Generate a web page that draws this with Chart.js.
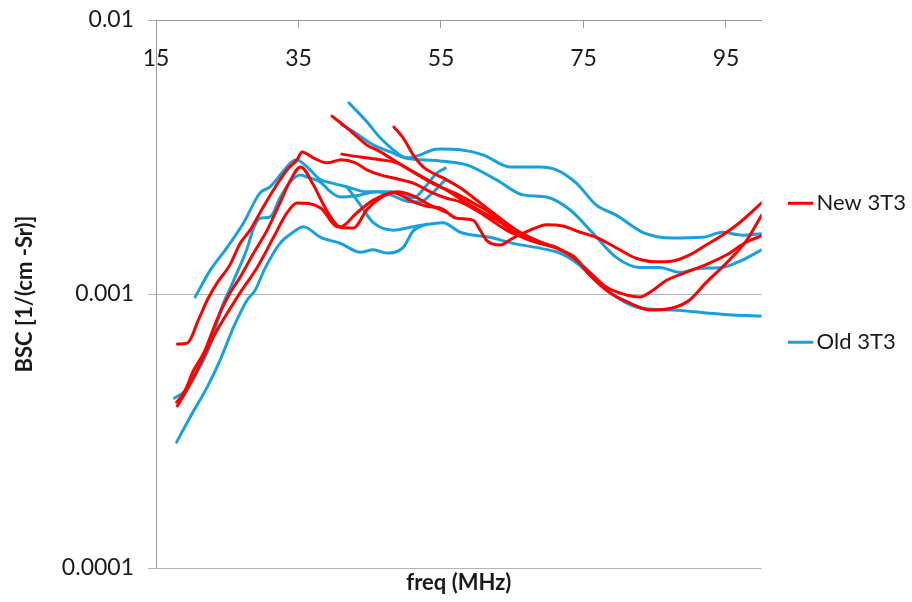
<!DOCTYPE html>
<html>
<head>
<meta charset="utf-8">
<script src="https://cdn.jsdelivr.net/npm/chart.js@4.4.0/dist/chart.umd.min.js"></script>
<style>
  html, body { margin: 0; padding: 0; background: #ffffff; }
  #c { display: block; }
</style>
</head>
<body>
<canvas id="c" width="912" height="602"></canvas>
<script>
// Backscatter coefficient spectra, BSC [1/(cm-Sr)] against frequency (MHz)

const X_TICKS = [15, 35, 55, 75, 95];
const Y_TICKS = [0.0001, 0.001, 0.01];
const Y_TICK_LABELS = ['0.0001', '0.001', '0.01'];
const SERIES_NAMES = ['New 3T3', 'Old 3T3'];

// New 3T3 runs
const NEW_A_FREQ = [18.0, 19.4, 21.0, 22.2, 23.6, 25.4, 26.8, 28.2, 29.6, 31.5, 33.4, 34.8, 35.5, 37.1, 39.0, 41.0, 43.0, 44.6, 46.5, 48.3, 51.1, 53.5, 55.7, 57.7, 60.5, 64.2, 66.5, 68.9, 71.1];
const NEW_A_BSC = [6.57e-4, 6.62e-4, 8.10e-4, 9.51e-4, 1.10e-3, 1.28e-3, 1.53e-3, 1.71e-3, 1.98e-3, 2.40e-3, 2.84e-3, 3.09e-3, 3.30e-3, 3.14e-3, 3.01e-3, 3.09e-3, 3.01e-3, 2.84e-3, 2.72e-3, 2.65e-3, 2.54e-3, 2.36e-3, 2.24e-3, 2.17e-3, 1.98e-3, 1.71e-3, 1.61e-3, 1.53e-3, 1.48e-3];

const NEW_B_FREQ = [17.9, 18.9, 20.3, 21.7, 23.6, 25.4, 26.8, 28.7, 30.6, 32.4, 33.9, 35.3, 37.1, 38.9, 40.9, 43.2, 45.5, 48.3, 51.1, 53.5, 54.9, 57.2, 59.5, 60.5, 61.4, 63.3, 65.1, 67.5, 69.8, 72.1, 74.5, 76.8, 80.1, 82.4, 85.2, 87.5, 89.9, 92.2, 94.5, 96.9, 100];
const NEW_B_BSC = [4.03e-4, 4.35e-4, 5.28e-4, 6.09e-4, 8.10e-4, 1.01e-3, 1.15e-3, 1.41e-3, 1.71e-3, 2.15e-3, 2.61e-3, 2.91e-3, 2.50e-3, 2.03e-3, 1.76e-3, 1.98e-3, 2.20e-3, 2.34e-3, 2.17e-3, 2.08e-3, 2.06e-3, 1.89e-3, 1.86e-3, 1.71e-3, 1.57e-3, 1.51e-3, 1.60e-3, 1.71e-3, 1.79e-3, 1.77e-3, 1.68e-3, 1.61e-3, 1.45e-3, 1.35e-3, 1.31e-3, 1.32e-3, 1.39e-3, 1.51e-3, 1.64e-3, 1.82e-3, 2.15e-3];

const NEW_C_FREQ = [18.0, 19.8, 21.2, 22.6, 24.5, 26.8, 29.2, 31.5, 33.4, 34.8, 38.1, 40.4, 42.7, 44.6, 46.5, 48.8, 51.1, 53.5, 55.7];
const NEW_C_BSC = [3.90e-4, 4.69e-4, 5.55e-4, 6.62e-4, 8.10e-4, 1.01e-3, 1.25e-3, 1.61e-3, 1.98e-3, 2.15e-3, 2.06e-3, 1.76e-3, 1.74e-3, 2.03e-3, 2.24e-3, 2.36e-3, 2.28e-3, 2.11e-3, 1.99e-3];

const NEW_D_FREQ = [39.7, 41.8, 44.6, 46.5, 48.8, 51.1, 53.5, 54.9, 57.2, 59.5, 61.9, 64.2, 66.5, 68.9, 71.2, 73.5, 75.9, 78.2, 81.0, 82.9, 84.7, 86.6, 89.4, 92.2, 95.1, 97.9, 100];
const NEW_D_BSC = [4.46e-3, 4.04e-3, 3.50e-3, 3.30e-3, 3.03e-3, 2.79e-3, 2.56e-3, 2.46e-3, 2.32e-3, 2.15e-3, 1.98e-3, 1.76e-3, 1.61e-3, 1.53e-3, 1.48e-3, 1.36e-3, 1.20e-3, 1.06e-3, 9.92e-4, 9.75e-4, 1.03e-3, 1.12e-3, 1.20e-3, 1.28e-3, 1.39e-3, 1.55e-3, 1.63e-3];

const NEW_E_FREQ = [48.4, 49.7, 51.1, 52.5, 53.9, 55.8, 57.7, 60.5, 63.3, 66.1, 68.9, 71.7, 73.8, 75.9, 78.7, 81.5, 84.3, 87.5, 89.9, 92.2, 95.1, 97.9, 100];
const NEW_E_BSC = [4.07e-3, 3.71e-3, 3.22e-3, 2.91e-3, 2.76e-3, 2.61e-3, 2.44e-3, 2.15e-3, 1.89e-3, 1.68e-3, 1.55e-3, 1.45e-3, 1.36e-3, 1.17e-3, 1.01e-3, 9.27e-4, 8.74e-4, 8.89e-4, 9.51e-4, 1.10e-3, 1.30e-3, 1.57e-3, 1.94e-3];

const NEW_F_FREQ = [41.1, 43.7, 46.5, 48.8, 51.1, 53.5, 55.7, 59.1, 63.3, 67.5, 71.1];
const NEW_F_BSC = [3.24e-3, 3.16e-3, 3.09e-3, 3.01e-3, 2.79e-3, 2.58e-3, 2.40e-3, 2.11e-3, 1.83e-3, 1.60e-3, 1.48e-3];

// Old 3T3 runs
const OLD_A_FREQ = [20.5, 22.6, 25.0, 27.3, 29.6, 31.0, 33.9, 34.7, 36.2, 38.1, 39.7, 41.8, 44.6, 47.9, 51.1, 53.0, 54.4, 55.6];
const OLD_A_BSC = [9.75e-4, 1.22e-3, 1.48e-3, 1.82e-3, 2.34e-3, 2.46e-3, 3.01e-3, 3.09e-3, 2.91e-3, 2.61e-3, 2.54e-3, 2.46e-3, 2.36e-3, 2.36e-3, 2.24e-3, 2.50e-3, 2.76e-3, 2.88e-3];

const OLD_B_FREQ = [17.6, 18.9, 20.3, 22.2, 23.1, 24.0, 25.9, 27.8, 28.7, 29.6, 31.0, 32.4, 33.9, 35.3, 36.2, 38.1, 39.5, 40.9, 43.0, 46.0, 47.9, 50.7, 52.1, 53.5, 55.6];
const OLD_B_BSC = [4.17e-4, 4.39e-4, 4.94e-4, 6.14e-4, 7.08e-4, 8.60e-4, 1.12e-3, 1.47e-3, 1.74e-3, 1.89e-3, 1.91e-3, 2.24e-3, 2.58e-3, 2.72e-3, 2.67e-3, 2.56e-3, 2.36e-3, 2.26e-3, 2.28e-3, 2.36e-3, 2.30e-3, 2.17e-3, 2.17e-3, 2.30e-3, 2.61e-3];

const OLD_C_FREQ = [17.9, 19.8, 22.2, 24.0, 25.9, 27.8, 28.9, 30.3, 32.4, 34.1, 35.7, 38.1, 40.9, 43.7, 45.5, 47.4, 49.7, 51.1, 53.0];
const OLD_C_BSC = [2.88e-4, 3.56e-4, 4.58e-4, 5.74e-4, 7.58e-4, 9.51e-4, 1.03e-3, 1.24e-3, 1.53e-3, 1.67e-3, 1.76e-3, 1.61e-3, 1.53e-3, 1.42e-3, 1.45e-3, 1.41e-3, 1.48e-3, 1.70e-3, 1.80e-3];

const OLD_D_FREQ = [41.1, 43.0, 45.5, 47.9, 50.2, 52.1, 53.9, 54.9, 57.7, 60.9, 64.7, 68.9, 71.2, 74.0, 76.8, 79.6, 83.3, 87.5, 91.7, 94.5, 97.3, 100];
const OLD_D_BSC = [4.14e-3, 3.87e-3, 3.50e-3, 3.30e-3, 3.14e-3, 3.22e-3, 3.36e-3, 3.38e-3, 3.36e-3, 3.22e-3, 2.91e-3, 2.91e-3, 2.84e-3, 2.54e-3, 2.11e-3, 1.94e-3, 1.68e-3, 1.60e-3, 1.61e-3, 1.68e-3, 1.64e-3, 1.66e-3];

const OLD_E_FREQ = [42.1, 44.6, 46.5, 48.3, 49.7, 52.1, 54.9, 58.6, 62.8, 66.5, 69.8, 73.1, 76.3, 79.6, 82.9, 85.7, 88.5, 91.3, 94.5, 97.3, 100];
const OLD_E_BSC = [4.98e-3, 4.25e-3, 3.71e-3, 3.36e-3, 3.16e-3, 3.09e-3, 3.06e-3, 2.96e-3, 2.61e-3, 2.30e-3, 2.26e-3, 2.03e-3, 1.67e-3, 1.36e-3, 1.25e-3, 1.25e-3, 1.20e-3, 1.24e-3, 1.25e-3, 1.33e-3, 1.45e-3];

const OLD_F_FREQ = [41.8, 43.7, 45.5, 48.3, 51.1, 55.3, 57.7, 61.9, 65.1, 68.9, 71.7, 74.0, 76.8, 79.6, 82.9, 87.5, 92.2, 95.9, 100];
const OLD_F_BSC = [2.46e-3, 2.11e-3, 1.82e-3, 1.71e-3, 1.76e-3, 1.82e-3, 1.68e-3, 1.61e-3, 1.53e-3, 1.47e-3, 1.41e-3, 1.30e-3, 1.12e-3, 9.75e-4, 8.89e-4, 8.74e-4, 8.53e-4, 8.38e-4, 8.31e-4];

const RED = '#ff0000';
const BLUE = '#17a2de';
const TEXT = '#1a1a1a';
const GRID = '#b4b4b4';
const AXIS = '#999999';

Chart.defaults.font.family = 'Lato, "Open Sans", sans-serif';

const groups = [
  { name: SERIES_NAMES[0], color: RED, runs: [
    [NEW_A_FREQ, NEW_A_BSC], [NEW_B_FREQ, NEW_B_BSC], [NEW_C_FREQ, NEW_C_BSC],
    [NEW_D_FREQ, NEW_D_BSC], [NEW_E_FREQ, NEW_E_BSC], [NEW_F_FREQ, NEW_F_BSC]] },
  { name: SERIES_NAMES[1], color: BLUE, runs: [
    [OLD_A_FREQ, OLD_A_BSC], [OLD_B_FREQ, OLD_B_BSC], [OLD_C_FREQ, OLD_C_BSC],
    [OLD_D_FREQ, OLD_D_BSC], [OLD_E_FREQ, OLD_E_BSC], [OLD_F_FREQ, OLD_F_BSC]] }
];

const datasets = [];
groups.forEach(g => {
  g.runs.forEach(([fs, vs]) => {
    datasets.push({
      label: g.name,
      data: fs.map((f, i) => ({ x: f, y: vs[i] })),
      borderColor: g.color,
      backgroundColor: g.color,
      borderWidth: 3,
      pointRadius: 0,
      pointHoverRadius: 0,
      fill: false,
      cubicInterpolationMode: 'monotone',
      borderCapStyle: 'round',
      borderJoinStyle: 'round'
    });
  });
});

new Chart(document.getElementById('c'), {
  type: 'line',
  data: { datasets },
  options: {
    responsive: false,
    animation: false,
    devicePixelRatio: 1,
    layout: { padding: { left: 0, right: -4, top: 0, bottom: 0 } },
    plugins: {
      tooltip: { enabled: false },
      legend: {
        position: 'right',
        align: 'center',
        labels: {
          usePointStyle: true,
          boxWidth: 10,
          boxHeight: 18,
          padding: 34,
          color: TEXT,
          font: { size: 22, lineHeight: '26.25px' },
          generateLabels: () => [
            { text: [SERIES_NAMES[0], '', '', ''], strokeStyle: RED, fillStyle: RED, lineWidth: 3, pointStyle: 'line', hidden: false, datasetIndex: 0, fontColor: TEXT },
            { text: [SERIES_NAMES[1], '', ''], strokeStyle: BLUE, fillStyle: BLUE, lineWidth: 3, pointStyle: 'line', hidden: false, datasetIndex: 6, fontColor: TEXT }
          ]
        }
      }
    },
    scales: {
      x: {
        type: 'linear',
        position: 'top',
        min: 15,
        max: 100,
        afterBuildTicks: s => { s.ticks = X_TICKS.map(v => ({ value: v })); },
        afterFit: s => { s.height = 20; s.paddingLeft = 0; s.paddingRight = 0; },
        ticks: { mirror: true, padding: 25, color: TEXT, font: { size: 23 }, maxRotation: 0, autoSkip: false },
        grid: { drawOnChartArea: false, tickLength: -8, color: AXIS },
        border: { color: AXIS }
      },
      x2: {
        type: 'linear',
        position: 'bottom',
        min: 15,
        max: 100,
        afterFit: s => { s.height = 34; },
        grid: { display: false },
        border: { display: false },
        ticks: { display: false },
        title: { display: true, text: 'freq (MHz)', color: TEXT, font: { size: 22, weight: 'bold' }, padding: { top: 0, bottom: 6 } }
      },
      y: {
        type: 'logarithmic',
        position: 'left',
        min: 0.0001,
        max: 0.01,
        afterBuildTicks: s => { s.ticks = Y_TICKS.map(v => ({ value: v })); },
        afterFit: s => { s.width = 156; s.paddingTop = 0; s.paddingBottom = 0; },
        ticks: { color: TEXT, font: { size: 23 }, padding: 14, callback: (v, i) => Y_TICK_LABELS[i] },
        grid: { color: GRID, tickLength: 8 },
        border: { color: AXIS },
        title: { display: true, text: 'BSC [1/(cm -Sr)]', color: TEXT, font: { size: 22, weight: 'bold' }, padding: { top: 12, bottom: 0 } }
      }
    }
  }
});
</script>
</body>
</html>
